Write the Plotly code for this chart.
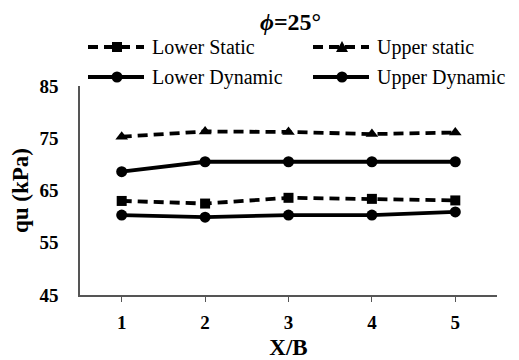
import plotly.graph_objects as go

# X/B ratios and ultimate bearing capacity qu (kPa)
x_b = [1, 2, 3, 4, 5]
lower_static = [63.0, 62.5, 63.6, 63.4, 63.1]
upper_static = [75.3, 76.3, 76.2, 75.8, 76.1]
lower_dynamic = [60.3, 59.9, 60.3, 60.3, 60.9]
upper_dynamic = [68.6, 70.5, 70.5, 70.5, 70.5]

y_ticks = [45, 55, 65, 75, 85]

FONT = "Liberation Serif, Times New Roman, serif"
DASH = "10px,6px"

series = [
    ("Lower Static", lower_static, DASH, "square", 10),
    ("Upper static", upper_static, DASH, "triangle-up", 11),
    ("Lower Dynamic", lower_dynamic, "solid", "circle", 11),
    ("Upper Dynamic", upper_dynamic, "solid", "circle", 11),
]

# plot-area geometry in pixels (used to place the hand-built legend)
W, H = 519, 360
ML, MR, MT, MB = 80, 22, 86, 65
PW, PH = W - ML - MR, H - MT - MB


def px_x(px):
    return (px - ML) / PW


def px_y(py):
    return (H - MB - py) / PH


fig = go.Figure()
for name, vals, dash, symbol, size in series:
    fig.add_trace(go.Scatter(
        x=x_b, y=vals, name=name, mode="lines+markers", showlegend=False,
        line=dict(color="black", width=3.8, dash=dash),
        marker=dict(symbol=symbol, size=size, color="black"),
    ))

# legend: 2 x 2 grid of line samples with a marker in the middle
legend_slots = [(88, 47), (313, 47), (88, 77), (313, 77)]
shapes, annotations = [], []
for (name, _, dash, symbol, size), (lx, ly) in zip(series, legend_slots):
    shapes.append(dict(type="line", xref="paper", yref="paper",
                       x0=px_x(lx), x1=px_x(lx + 56), y0=px_y(ly), y1=px_y(ly),
                       line=dict(color="black", width=3.8, dash=dash)))
    cx, cy = px_x(lx + 29), px_y(ly)
    common = dict(xref="paper", yref="paper", xsizemode="pixel", ysizemode="pixel",
                  xanchor=cx, yanchor=cy, fillcolor="black", line=dict(width=0))
    if symbol == "square":
        shapes.append(dict(type="rect", x0=-5, x1=5, y0=-5, y1=5, **common))
    elif symbol == "circle":
        shapes.append(dict(type="circle", x0=-5.5, x1=5.5, y0=-5.5, y1=5.5, **common))
    else:
        shapes.append(dict(type="path", path="M-6,-5 L6,-5 L0,6 Z", **common))
    annotations.append(dict(text=name, xref="paper", yref="paper",
                            x=px_x(lx + 62), y=cy, xanchor="left", yanchor="middle",
                            showarrow=False, font=dict(size=20, family=FONT)))

fig.update_layout(
    width=W, height=H,
    margin=dict(l=ML, r=MR, t=MT, b=MB, autoexpand=False),
    paper_bgcolor="white", plot_bgcolor="white",
    font=dict(family=FONT, color="black", size=16),
    title=dict(text="<b><i>ϕ</i>=25°</b>", x=0.56, xanchor="center",
               y=0.94, yanchor="middle", font=dict(size=24)),
    showlegend=False,
    shapes=shapes,
    annotations=annotations,
    xaxis=dict(
        range=[0.5, 5.5], tickvals=x_b, ticks="outside", ticklen=5,
        tickwidth=1, tickcolor="#555", showline=True, linecolor="#555",
        linewidth=1.5, showgrid=False, zeroline=False, automargin=False,
        tickfont=dict(size=19, family=FONT, weight="bold"), ticklabelstandoff=4,
        title=dict(text="<b>X/B</b>", font=dict(size=23), standoff=10),
    ),
    yaxis=dict(
        range=[45, 85], tickvals=y_ticks, ticks="", showline=True,
        linecolor="#555", linewidth=1.5, showgrid=False, zeroline=False,
        automargin=False,
        tickfont=dict(size=19, family=FONT, weight="bold"), ticklabelstandoff=16,
        title=dict(text="<b>qu (kPa)</b>", font=dict(size=23), standoff=4),
    ),
)

fig.write_html("out.html")
